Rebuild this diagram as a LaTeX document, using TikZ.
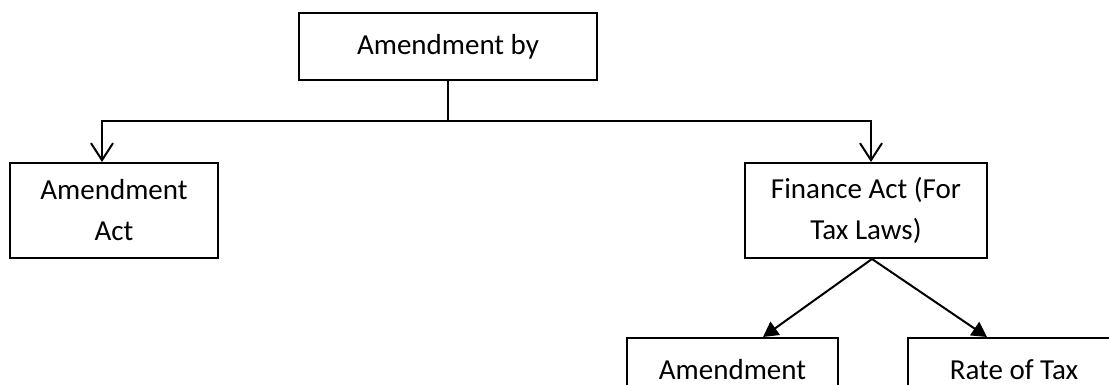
\documentclass[tikz,border=0pt]{standalone}
\usepackage{fontspec}
\setmainfont{Carlito}
\usetikzlibrary{arrows.meta}
\begin{document}
\begin{tikzpicture}[x=1pt,y=-1pt,
  box/.style={draw,line width=2pt,align=center,font=\fontsize{29}{41}\selectfont},
  openhead/.style={line width=2pt,-{Straight Barb[length=17pt,width=22pt]}},
  solidhead/.style={line width=2pt,-{Triangle[length=15pt,width=16pt]}}]
  \useasboundingbox (0,0) rectangle (1109,385);
  \clip (0,0) rectangle (1109,385);
  % Boxes
  \node[box,minimum width=298,minimum height=67] (top) at (448,46.5) {Amendment by};
  \node[box,minimum width=208,minimum height=95] (act) at (114,210.5) {Amendment\\Act};
  \node[box,minimum width=242,minimum height=95] (fin) at (866,210.5) {Finance Act (For\\Tax Laws)};
  \node[box,minimum width=211,inner ysep=0,text height=41,text depth=54,anchor=north] (amd) at (732.5,337) {Amendment};
  \node[box,minimum width=212,inner ysep=0,text height=41,text depth=54,anchor=north] (rate) at (1014,337) {Rate of Tax};
  % Connectors
  \coordinate (split) at (448,121);
  \draw[line width=2pt] (top) -- (split);
  \draw[openhead] (split) -| ([xshift=-12]act.north);
  \draw[openhead] (split) -| ([xshift=5]fin.north);
  \draw[solidhead] ([xshift=6]fin.south) -- ([xshift=30.5]amd.north);
  \draw[solidhead] ([xshift=6]fin.south) -- ([xshift=-27]rate.north);
\end{tikzpicture}
\end{document}
